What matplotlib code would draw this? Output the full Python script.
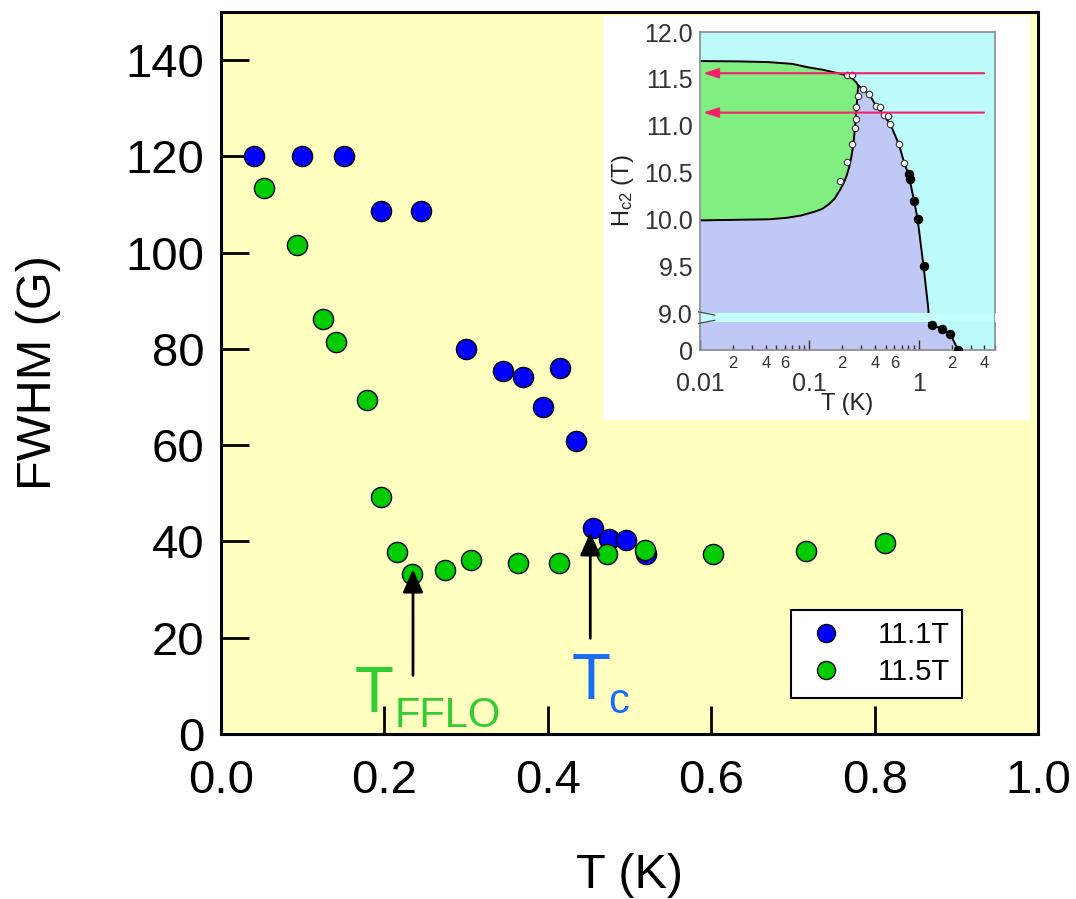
import numpy as np
import matplotlib
matplotlib.use("Agg")
import matplotlib.pyplot as plt
from matplotlib.patches import Rectangle
from matplotlib.lines import Line2D
from matplotlib.ticker import FixedLocator, FuncFormatter, LogLocator

plt.rcParams['font.family'] = ['Liberation Sans', 'DejaVu Sans']
plt.rcParams['mathtext.fontset'] = 'custom'
plt.rcParams['mathtext.rm'] = 'Liberation Sans'
plt.rcParams['mathtext.it'] = 'Liberation Sans'

# ---- main data: muSR linewidth vs temperature ----
t_111 = [0.040, 0.099, 0.151, 0.196, 0.245, 0.300, 0.345, 0.370, 0.394, 0.415,
         0.435, 0.455, 0.475, 0.496, 0.520]
fwhm_111 = [120, 120, 120, 108.6, 108.6, 80.0, 75.5, 74.2, 68.0, 76.1,
            60.8, 42.7, 40.6, 40.4, 37.5]

t_115 = [0.053, 0.093, 0.125, 0.141, 0.179, 0.196, 0.215, 0.234, 0.274, 0.306,
         0.363, 0.414, 0.472, 0.519, 0.602, 0.716, 0.813]
fwhm_115 = [113.4, 101.5, 86.2, 81.4, 69.4, 49.3, 37.9, 33.2, 34.0, 36.1,
            35.5, 35.5, 37.5, 38.3, 37.3, 38.0, 39.6]

series_labels = ['11.1T', '11.5T']

# arrow markers for the transition temperatures
t_fflo = 0.235
t_c = 0.452
arrow_fflo = (11.6, 34.8)
arrow_tc = (19.3, 42.5)

# ---- inset data: H-T phase diagram ----
hc2_T = [0.01, 0.02, 0.041, 0.07, 0.095, 0.13, 0.167, 0.2, 0.222, 0.25, 0.27, 0.28,
         0.31, 0.35, 0.41, 0.48, 0.55, 0.66, 0.74, 0.81, 0.91, 0.98, 1.11, 1.24,
         1.33, 1.65, 1.94, 2.3]
hc2_H = [11.69, 11.688, 11.68, 11.66, 11.625, 11.6, 11.57, 11.55, 11.535, 11.5,
         11.46, 11.43, 11.39, 11.34, 11.21, 11.11, 11.02, 10.80, 10.60, 10.48,
         10.20, 10.0, 9.5, 9.0, 8.0, 6.9, 5.3, 0.0]

fflo_T = [0.01, 0.02, 0.041, 0.06, 0.083, 0.11, 0.13, 0.15, 0.17, 0.19, 0.205, 0.22,
          0.232, 0.242, 0.25, 0.256, 0.262, 0.268, 0.274, 0.28]
fflo_H = [9.99, 9.995, 10.0, 10.015, 10.04, 10.08, 10.11, 10.16, 10.22, 10.31,
          10.38, 10.47, 10.56, 10.66, 10.76, 10.86, 10.98, 11.12, 11.28, 11.43]

open_T = [0.19, 0.22, 0.246, 0.262, 0.268, 0.27, 0.277, 0.222, 0.246, 0.31, 0.35,
          0.41, 0.445, 0.48, 0.52, 0.55, 0.66, 0.74]
open_H = [10.41, 10.61, 10.80, 10.98, 11.07, 11.20, 11.32, 11.54, 11.54, 11.39, 11.34,
          11.21, 11.20, 11.11, 11.10, 11.02, 10.80, 10.60]

solid_T = [0.81, 0.83, 0.91, 0.98, 1.11, 1.33, 1.65, 1.94, 2.3]
solid_H = [10.48, 10.43, 10.20, 10.0, 9.5, 8.0, 6.9, 5.3, 0.0]

field_arrows = [11.56, 11.14]
arrow_from_T = 4.2

# broken field axis: 9-12 T linear, 0-9 T squeezed below the break
BREAK = 9.0
LOW_BOTTOM = 8.607
LOW_TOP = 8.904
LOW_SLOPE = (LOW_TOP - LOW_BOTTOM) / BREAK


def h_forward(h):
    h = np.asarray(h, dtype=float)
    return np.where(h >= BREAK, h, LOW_BOTTOM + h * LOW_SLOPE)


def h_inverse(y):
    y = np.asarray(y, dtype=float)
    return np.where(y >= (LOW_TOP + BREAK) / 2, y, (y - LOW_BOTTOM) / LOW_SLOPE)


W, H = 1076, 899
fig = plt.figure(figsize=(W / 100, H / 100), dpi=100)
fig.patch.set_facecolor('white')

ax = fig.add_axes([221 / W, 1 - 734 / H, 817 / W, 722 / H])
ax.set_facecolor('#ffffc0')
ax.set_xlim(0, 1.0)
ax.set_ylim(0, 150)
for s in ax.spines.values():
    s.set_linewidth(2.2)
ax.set_xticks(np.arange(0, 1.01, 0.2))
ax.set_yticks(np.arange(0, 141, 20))
ax.xaxis.set_major_formatter(FuncFormatter(lambda v, p: f'{v:.1f}'))
ax.tick_params(axis='both', direction='in', length=20, width=2, labelsize=34,
               top=False, right=False)
ax.tick_params(axis='x', pad=18)
ax.tick_params(axis='y', pad=12)
ax.set_xlabel('T (K)', fontsize=35, labelpad=36)
ax.set_ylabel('FWHM (G)', fontsize=35, labelpad=46)

mk = dict(marker='o', linestyle='none', markersize=14.5, markeredgecolor='black',
          markeredgewidth=1.0)
ax.plot(t_111, fwhm_111, color='#0000ff', label=series_labels[0], zorder=3, **mk)
ax.plot(t_115, fwhm_115, color='#00cc00', label=series_labels[1], zorder=4, **mk)

for xx, (y0, y1) in ((t_fflo, arrow_fflo), (t_c, arrow_tc)):
    ax.annotate('', xy=(xx, y1), xytext=(xx, y0),
                arrowprops=dict(arrowstyle='-|>,head_length=1.4,head_width=0.62',
                                color='black', lw=2), zorder=5)

ax.text(0.164, 4.6, 'T', color='#33cc33', fontsize=46, ha='left', va='baseline')
ax.text(0.213, 1.4, 'FFLO', color='#33cc33', fontsize=30, ha='left', va='baseline')
ax.text(0.429, 7.3, 'T', color='#1a6ef5', fontsize=46, ha='left', va='baseline')
ax.text(0.474, 4.4, 'c', color='#1a6ef5', fontsize=30, ha='left', va='baseline')

leg = ax.legend(loc='lower right', bbox_to_anchor=(0.907, 0.05), fontsize=21,
                frameon=True, fancybox=False, framealpha=1, edgecolor='black',
                borderaxespad=0, handletextpad=1.0, borderpad=0.4,
                labelspacing=0.3, handlelength=1.6, markerscale=1.0)
leg.get_frame().set_linewidth(1.5)
for hnd in leg.legend_handles:
    hnd.set_markersize(13)

# ---- inset ----
panel = Rectangle((603 / W, 1 - 420 / H), 427 / W, 404 / H, transform=fig.transFigure,
                  facecolor='white', edgecolor='none', zorder=2)
fig.add_artist(panel)

axi = fig.add_axes([700 / W, 1 - 350 / H, 295 / W, 318 / H], zorder=3)
axi.set_facecolor('#bdfbfb')
axi.set_xscale('log')
axi.set_yscale('function', functions=(h_forward, h_inverse))
axi.set_xlim(0.01, 5.0)
axi.set_ylim(0.0, 12.0)
for s in axi.spines.values():
    s.set_color('#8c8c8c')
    s.set_linewidth(1.2)

tt = np.geomspace(0.01, 2.3, 400)
hc2_fine = np.interp(np.log(tt), np.log(hc2_T), hc2_H)
axi.fill_between(tt, 0, hc2_fine, color='#c0c8f5', lw=0, zorder=1)
tf = np.geomspace(0.01, 0.28, 300)
fflo_fine = np.interp(np.log(tf), np.log(fflo_T), fflo_H)
hc2_f = np.interp(np.log(tf), np.log(hc2_T), hc2_H)
axi.fill_between(tf, fflo_fine, hc2_f, color='#80ee80', lw=0, zorder=1.5)
axi.plot(tt, hc2_fine, color='black', lw=1.4, zorder=2)
axi.plot(tf, fflo_fine, color='black', lw=1.4, zorder=2)

# band marking the axis break
yb0 = (LOW_TOP - LOW_BOTTOM) / (12.0 - LOW_BOTTOM)
yb1 = (BREAK - LOW_BOTTOM) / (12.0 - LOW_BOTTOM)
axi.add_patch(Rectangle((0, yb0), 1.0, yb1 - yb0, transform=axi.transAxes,
                        facecolor='#c4ffff', edgecolor='none', zorder=2.5,
                        clip_on=False))
axi.add_patch(Rectangle((1.0, yb0), 0.02, yb1 - yb0, transform=axi.transAxes,
                        facecolor='white', edgecolor='none', zorder=6,
                        clip_on=False))
for yy, dy in ((yb0, 0.01), (yb1, -0.01)):
    axi.add_line(Line2D([-0.005, 0.05], [yy - dy * 0.4, yy + dy * 0.6],
                        transform=axi.transAxes, color='#4a4a4a', lw=0.9,
                        zorder=3, clip_on=False))

axi.plot(open_T, open_H, marker='o', linestyle='none', markersize=4.6,
         markerfacecolor='white', markeredgecolor='#333333', markeredgewidth=0.8,
         zorder=4)
axi.plot(solid_T, solid_H, marker='o', linestyle='none', markersize=5.8,
         color='black', zorder=4)

for hf in field_arrows:
    axi.annotate('', xy=(0.0101, hf), xytext=(arrow_from_T, hf),
                 arrowprops=dict(arrowstyle='-|>,head_length=0.9,head_width=0.3',
                                 color='#f5206a', lw=1.5), zorder=5)

axi.yaxis.set_major_locator(FixedLocator([0, 9.0, 9.5, 10.0, 10.5, 11.0, 11.5, 12.0]))
axi.yaxis.set_major_formatter(FuncFormatter(lambda v, p: '0' if v < 1 else f'{v:.1f}'))
axi.yaxis.set_minor_locator(FixedLocator([]))
axi.tick_params(axis='y', which='major', length=0, labelsize=18, pad=5, colors='#333333')

axi.xaxis.set_major_locator(FixedLocator([0.01, 0.1, 1.0]))
axi.xaxis.set_major_formatter(FuncFormatter(lambda v, p: f'{v:g}'))
axi.xaxis.set_minor_locator(LogLocator(base=10, subs=np.arange(2, 10), numticks=20))


def minor_fmt(v, p):
    d = int(round(v / 10 ** np.floor(np.log10(v) + 1e-9)))
    return str(d) if d in (2, 4, 6) else ''


axi.xaxis.set_minor_formatter(FuncFormatter(minor_fmt))
axi.tick_params(axis='x', which='major', direction='in', length=7, width=1,
                labelsize=18, pad=16, colors='#333333')
axi.tick_params(axis='x', which='minor', direction='in', length=3.5, width=1,
                labelsize=12, pad=4, colors='#333333')
axi.set_xlabel('T (K)', fontsize=17, labelpad=-2, color='#222222')
axi.set_ylabel('H$_{\\mathregular{c2}}$ (T)', fontsize=17, labelpad=6, color='#222222')

fig.savefig('out.png', dpi=100, facecolor='white')
